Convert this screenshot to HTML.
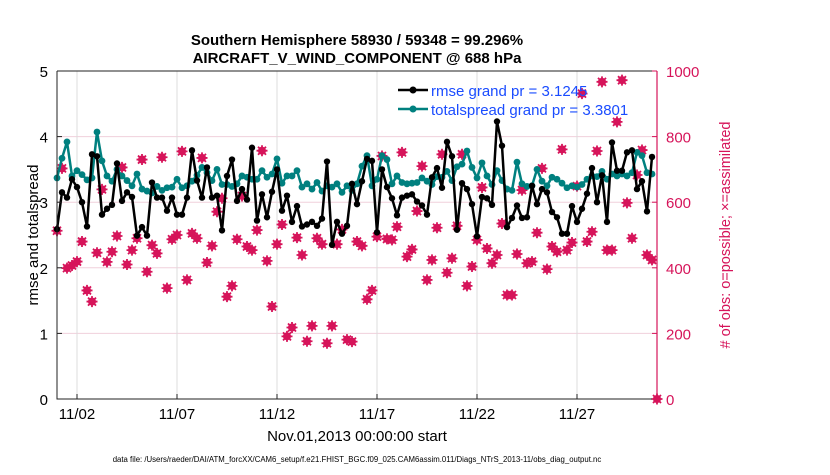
<!DOCTYPE html>
<html><head><meta charset="utf-8"><style>
body{margin:0;background:#fff;}
svg text{font-family:"Liberation Sans",sans-serif;}
</style></head><body>
<svg id="chart" width="830" height="470" xmlns="http://www.w3.org/2000/svg">
<text x="357" y="45" text-anchor="middle" font-size="15" font-weight="bold">Southern Hemisphere 58930 / 59348 = 99.296%</text>
<text x="357" y="63" text-anchor="middle" font-size="15" font-weight="bold">AIRCRAFT_V_WIND_COMPONENT @ 688 hPa</text>
<g id="grid"></g>
<g id="marks"></g>
<g id="axes"></g>
<text transform="translate(38,235) rotate(-90)" text-anchor="middle" font-size="15">rmse and totalspread</text>
<text transform="translate(730,235) rotate(-90)" text-anchor="middle" font-size="14.5" fill="#d6145a"># of obs: o=possible; ×=assimilated</text>
<text x="357" y="441" text-anchor="middle" font-size="15">Nov.01,2013 00:00:00 start</text>
<text x="357" y="462" text-anchor="middle" font-size="7.8">data file: /Users/raeder/DAI/ATM_forcXX/CAM6_setup/f.e21.FHIST_BGC.f09_025.CAM6assim.011/Diags_NTrS_2013-11/obs_diag_output.nc</text>
<g>
<line x1="398" y1="90" x2="428" y2="90" stroke="#000" stroke-width="2.5"/><circle cx="413" cy="90" r="3.5" fill="#000"/>
<text x="431" y="96" font-size="15" fill="#1a4cff">rmse grand pr = 3.1245</text>
<line x1="398" y1="109" x2="428" y2="109" stroke="#00807f" stroke-width="2.5"/><circle cx="413" cy="109" r="3.5" fill="#00807f"/>
<text x="431" y="115" font-size="15" fill="#1a4cff">totalspread grand pr = 3.3801</text>
</g>
</svg>
<script>
const rmse=[2.59,3.15,3.07,3.35,3.23,3.0,2.63,3.73,3.7,2.81,2.9,2.96,3.59,3.02,3.15,3.08,2.49,2.62,2.49,3.3,3.07,3.07,2.87,3.07,2.81,2.81,3.07,3.79,3.33,3.07,3.53,3.07,3.1,2.57,3.4,3.65,3.02,3.2,3.04,3.83,2.72,3.12,2.77,3.16,3.5,2.87,3.1,2.7,2.94,2.63,2.66,2.7,2.64,2.75,3.62,2.35,2.7,2.52,2.64,3.28,2.97,3.32,3.66,3.63,2.54,3.5,3.23,3.06,2.8,3.07,3.1,3.12,3.01,2.95,2.81,3.38,3.52,3.22,3.92,3.7,2.58,3.29,3.2,2.97,2.48,3.08,3.06,2.96,4.23,3.86,2.62,2.76,2.95,2.76,2.77,3.25,2.97,3.2,3.15,2.85,2.77,2.52,2.52,2.94,2.7,2.9,3.13,3.52,3.0,3.41,2.7,3.91,3.48,3.48,3.76,3.79,3.2,3.32,2.86,3.69];
const spread=[3.37,3.67,3.92,3.4,3.48,3.42,3.34,3.37,4.07,3.63,3.4,3.32,3.5,3.4,3.33,3.25,3.43,3.2,3.17,3.14,3.24,3.18,3.22,3.23,3.35,3.22,3.25,3.32,3.41,3.53,3.45,3.33,3.5,3.27,3.27,3.24,3.28,3.4,3.38,3.35,3.35,3.48,3.38,3.43,3.66,3.29,3.4,3.4,3.48,3.23,3.28,3.2,3.3,3.17,3.25,3.23,3.28,3.15,3.25,3.18,3.28,3.55,3.71,3.25,3.35,3.71,3.65,3.28,3.4,3.3,3.28,3.29,3.3,3.37,3.32,3.27,3.39,3.38,3.47,3.33,3.54,3.58,3.78,3.53,3.37,3.6,3.4,3.27,3.48,3.33,3.2,3.18,3.61,3.28,3.24,3.25,3.5,3.32,3.25,3.38,3.35,3.29,3.22,3.25,3.23,3.27,3.35,3.4,3.39,3.47,3.35,3.43,3.4,3.43,3.4,3.45,3.76,3.71,3.45,3.43];
const nobs=[513,703,399,407,419,480,331,297,446,639,418,449,497,706,410,454,490,730,388,469,444,737,338,487,500,755,363,505,490,735,416,467,571,612,312,345,487,619,465,454,515,757,421,282,472,532,191,218,492,439,176,223,490,472,170,223,472,517,181,175,480,467,304,331,495,741,488,485,525,752,434,456,573,710,363,424,522,746,385,429,528,746,345,404,485,645,459,414,439,535,317,317,442,637,414,419,507,703,396,465,449,761,454,477,649,931,480,510,756,967,454,454,845,972,598,490,683,759,439,424,0];
const xTickDays=[1,6,11,16,21,26];
const xTickLabels=["11/02","11/07","11/12","11/17","11/22","11/27"];
const yTicks=[0,1,2,3,4,5];
const y2Ticks=[0,200,400,600,800,1000];
const NS="http://www.w3.org/2000/svg";
const L=57,R=657,T=71,B=399;
const xs=d=>L+(d/30)*(R-L);
const ys=v=>B-(v/5)*(B-T);
const ys2=v=>B-(v/1000)*(B-T);
const idxDay=i=>i*0.25;
function mk(tag,attrs,parent){const e=document.createElementNS(NS,tag);for(const k in attrs)e.setAttribute(k,attrs[k]);document.getElementById(parent).appendChild(e);return e;}
const MAG="#d6145a";
yTicks.slice(1,5).forEach(v=>{const g=mk('line',{x1:L,x2:R,y1:ys(v),y2:ys(v),stroke:'#f0d0dc','stroke-width':1},'grid');

});
xTickDays.forEach(d=>{const g=mk('line',{x1:xs(d),x2:xs(d),y1:T,y2:B,stroke:'#dcdcdc','stroke-width':1},'grid');

});
nobs.forEach((v,i)=>{const x=xs(idxDay(i)),y=ys2(v);
const g=mk('g',{},'marks');


const c=document.createElementNS(NS,'circle');c.setAttribute('cx',x);c.setAttribute('cy',y);c.setAttribute('r',4);c.setAttribute('fill',MAG);g.appendChild(c);
const p=document.createElementNS(NS,'path');p.setAttribute('d',`M${x-5.5} ${y}H${x+5.5}M${x} ${y-5.5}V${y+5.5}M${x-4} ${y-4}L${x+4} ${y+4}M${x-4} ${y+4}L${x+4} ${y-4}`);p.setAttribute('stroke',MAG);p.setAttribute('stroke-width',1.8);g.appendChild(p);});
function series(arr,color,name,r){
const pts=arr.map((v,i)=>xs(idxDay(i))+','+ys(v)).join(' ');
const pl=mk('polyline',{points:pts,fill:'none',stroke:color,'stroke-width':2.5,'stroke-linejoin':'round'},'marks');


arr.forEach((v,i)=>{const c=mk('circle',{cx:xs(idxDay(i)),cy:ys(v),r:r,fill:color},'marks');

});}
series(spread,'#00807f','totalspread',3.4);
series(rmse,'#000','rmse',3.2);
const ax=mk('path',{d:`M${L} ${T}V${B}H${R}M${L} ${T}H${R}`,stroke:'#222',fill:'none','stroke-width':1},'axes');


const ra=mk('line',{x1:R,x2:R,y1:T,y2:B,stroke:MAG,'stroke-width':1.2},'axes');


yTicks.forEach(v=>{const t=mk('text',{x:L-9,y:ys(v)+6,'text-anchor':'end','font-size':15},'axes');t.textContent=v;


mk('line',{x1:L,x2:L+5,y1:ys(v),y2:ys(v),stroke:'#222'},'axes');});
y2Ticks.forEach(v=>{const t=mk('text',{x:R+9,y:ys2(v)+6,'font-size':15,fill:MAG},'axes');t.textContent=v;


mk('line',{x1:R-5,x2:R,y1:ys2(v),y2:ys2(v),stroke:MAG},'axes');});
xTickDays.forEach((d,i)=>{const t=mk('text',{x:xs(d),y:B+20,'text-anchor':'middle','font-size':15},'axes');t.textContent=xTickLabels[i];


mk('line',{x1:xs(d),x2:xs(d),y1:B,y2:B-5,stroke:'#222'},'axes');});
</script>
</body></html>
